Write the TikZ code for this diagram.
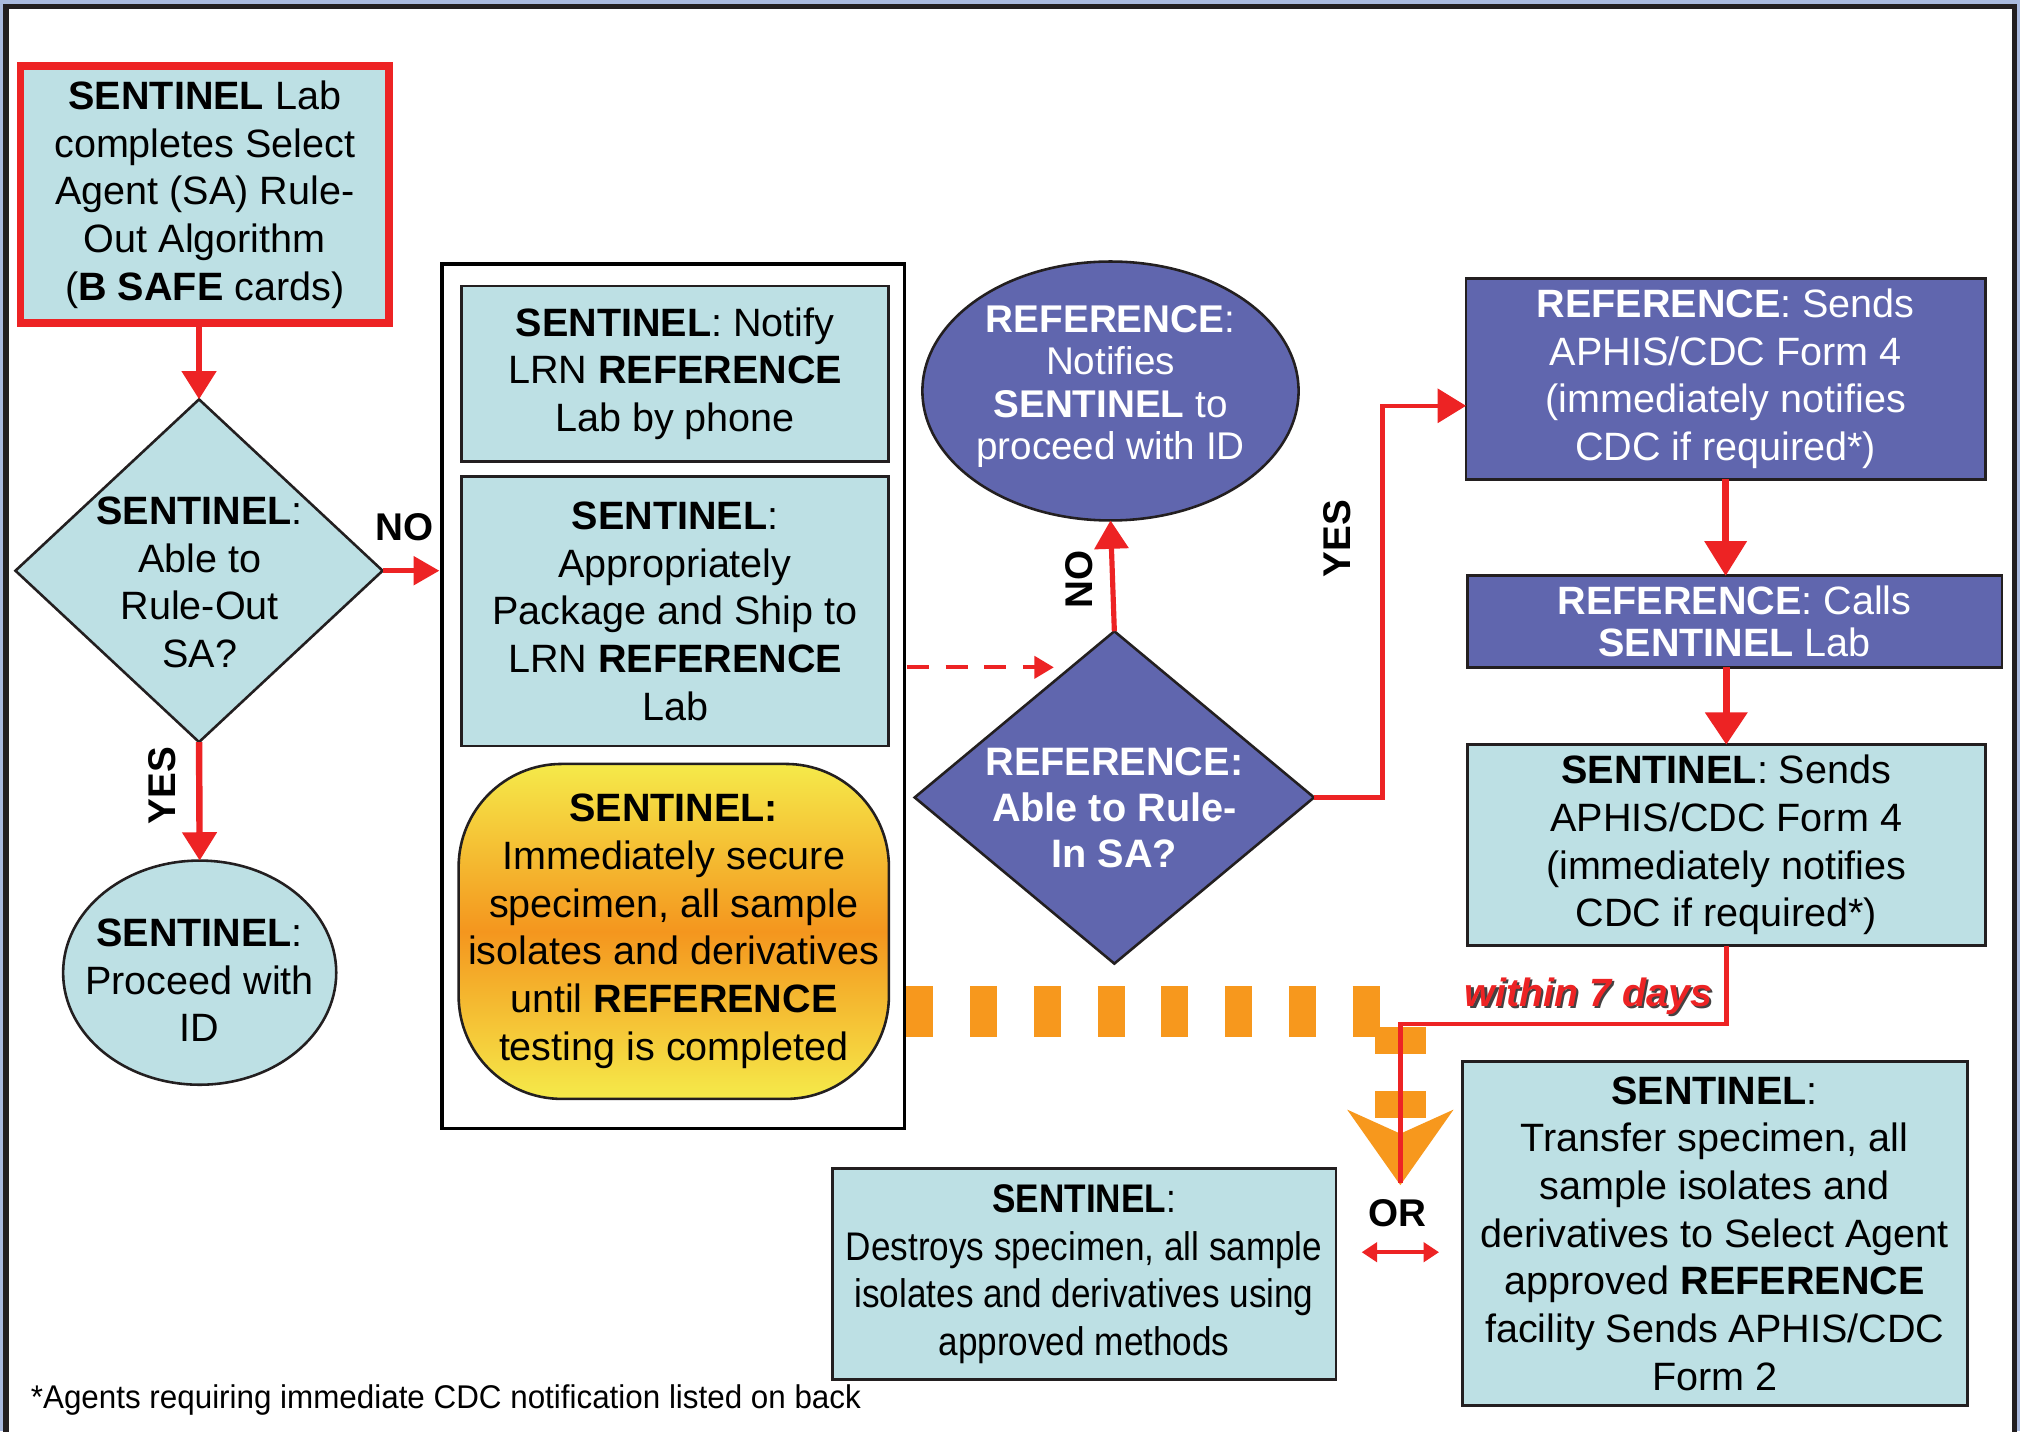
\documentclass[tikz,border=0pt]{standalone}
\usepackage{fontspec}
\setmainfont{Liberation Sans}
\newfontfamily\narrowfont[FakeStretch=0.88]{Liberation Sans}
\newfontfamily\footfont[FakeStretch=0.955]{Liberation Sans}
\usetikzlibrary{shapes.geometric,arrows.meta}
\definecolor{lblue}{RGB}{189,224,228}
\definecolor{dblue}{RGB}{96,102,174}
\definecolor{fred}{RGB}{237,35,36}
\definecolor{forange}{RGB}{247,152,29}
\definecolor{fyellow}{RGB}{245,234,74}
\definecolor{fmid}{RGB}{244,150,30}
\definecolor{bgblue}{RGB}{170,186,222}
\definecolor{fdark}{RGB}{35,31,32}
\begin{document}
\begin{tikzpicture}[x=1pt,y=-1pt,
  every node/.style={inner sep=0pt, outer sep=0pt},
  base/.style={font=\fontsize{30.7}{37}\selectfont, align=center},
  lbox/.style={base, draw=fdark, line width=2.2pt, fill=lblue},
  dbox/.style={lbox, fill=dblue, text=white},
  shapeonly/.style={draw=fdark, line width=2pt},
  txt/.style={base},
  wtxt/.style={base, text=white},
  lbl/.style={font=\fontsize{30}{36}\selectfont\bfseries},
  redarr/.style={draw=fred, line width=5pt, -{Triangle[width=26pt,length=22pt]}},
  redline/.style={draw=fred, line width=3.5pt},
  dashred/.style={draw=fred, line width=3pt, dash pattern=on 17pt off 13pt, -{Triangle[width=17pt,length=15pt]}},
  orangeconn/.style={draw=forange, line width=40pt, dash pattern=on 21pt off 28.5pt, -{Stealth[width=81pt,length=58pt,inset=18pt]}},
  dblarr/.style={draw=fred, line width=3pt, {Triangle[width=15pt,length=12pt]}-{Triangle[width=15pt,length=12pt]}},
  w7font/.style={font=\fontsize{30.6}{36}\selectfont\bfseries\itshape}
]
\useasboundingbox (0,0) rectangle (1568,1111);
\clip (0,0) rectangle (1568,1111);
\fill[bgblue] (0,0) rectangle (1568,1111);
\draw[fdark, line width=4.3pt, fill=white] (4.5,5.2) rectangle (1563.7,1130);

% coordinates
\coordinate (dashy) at (0,518);
\coordinate (dashend) at (818,518);
\coordinate (orangey) at (0,785);
\coordinate (orjoin) at (1087,920);
\coordinate (orarr) at (0,972);

% left column
\node[lbox, draw=fred, line width=6pt, minimum width=286pt, minimum height=200pt] (start) at (159,151)
  {\textbf{SENTINEL} Lab\\completes Select\\Agent (SA) Rule-\\Out Algorithm\\(\textbf{B SAFE} cards)};
\node[diamond, shapeonly, fill=lblue, minimum width=285pt, minimum height=266pt] (d1) at (154.5,443) {};
\node[txt] (d1t) at (155,452) {\textbf{SENTINEL}:\\Able to\\Rule-Out\\SA?};
\node[ellipse, shapeonly, fill=lblue, minimum width=212pt, minimum height=174pt] (e1) at (155,755) {};
\node[txt] (e1t) at (155,761) {\textbf{SENTINEL}:\\Proceed with\\ID};

% container column
\node[draw=black, line width=2.6pt, minimum width=359pt, minimum height=671pt] (cont) at (522.5,540.5) {};
\node[lbox, minimum width=332pt, minimum height=136pt] (na) at (524,290)
  {\textbf{SENTINEL}: Notify\\LRN \textbf{REFERENCE}\\Lab by phone};
\node[lbox, minimum width=332pt, minimum height=209pt] (nb) at (524,474.5)
  {\textbf{SENTINEL}:\\Appropriately\\Package and Ship to\\LRN \textbf{REFERENCE}\\Lab};
\node[base, draw=fdark, line width=2pt, rounded corners=80pt, top color=fyellow, bottom color=fyellow, middle color=fmid,
  minimum width=334pt, minimum height=260pt] (nc) at (523,723)
  {\textbf{SENTINEL:}\\Immediately secure\\specimen, all sample\\isolates and derivatives\\until \textbf{REFERENCE}\\testing is completed};

% reference decision
\node[diamond, shapeonly, fill=dblue, minimum width=310pt, minimum height=258pt] (d2) at (865,619) {};
\node[wtxt, font=\fontsize{30.8}{36}\selectfont\bfseries] (d2t) at (865,627) {REFERENCE:\\Able to Rule-\\In SA?};
\node[ellipse, shapeonly, fill=dblue, minimum width=292pt, minimum height=201pt] (e2) at (862,303.5) {};
\node[wtxt, font=\fontsize{30}{32.7}\selectfont] (e2t) at (862,300)
  {\textbf{REFERENCE}:\\Notifies\\\textbf{SENTINEL} to\\proceed with ID};

% right column
\node[dbox, minimum width=403pt, minimum height=156pt] (r1) at (1339.5,294)
  {\textbf{REFERENCE}: Sends\\APHIS/CDC Form 4\\(immediately notifies\\CDC if required*)};
\node[dbox, minimum width=415pt, minimum height=71pt, font=\fontsize{30.7}{33}\selectfont] (r2) at (1346.5,482.5)
  {\textbf{REFERENCE}: Calls\\\textbf{SENTINEL} Lab};
\node[lbox, minimum width=402pt, minimum height=156pt] (r3) at (1340,656)
  {\textbf{SENTINEL}: Sends\\APHIS/CDC Form 4\\(immediately notifies\\CDC if required*)};

% bottom boxes
\node[lbox, minimum width=391pt, minimum height=164pt, font=\narrowfont\fontsize{31}{37}\selectfont] (bl) at (841.5,989)
  {\textbf{SENTINEL}:\\Destroys specimen, all sample\\isolates and derivatives using\\approved methods};
\node[lbox, minimum width=392pt, minimum height=267pt] (br) at (1331,957.5)
  {\textbf{SENTINEL}:\\Transfer specimen, all\\sample isolates and\\derivatives to Select Agent\\approved \textbf{REFERENCE}\\facility Sends APHIS/CDC\\Form 2};

% connectors
\draw[redarr] (start.south -| d1.north) -- (d1.north);
\draw[redarr, line width=3.5pt, -{Triangle[width=22pt,length=20pt]}] (d1.east) -- ([xshift=-2pt]cont.west |- d1.east);
\node[lbl] (no1) at (314,409) {NO};
\draw[redarr] (d1.south) -- (e1.north);
\node[lbl, rotate=90] (yes1) at (126,610) {YES};

\draw[dashred] ([xshift=2pt]cont.east |- dashy) -- (dashend);
\draw[redarr, line width=4pt] (d2.north) -- (e2.south);
\node[lbl, rotate=90] (no2) at (838,450) {NO};
\draw[redarr, line width=3.5pt] (d2.east) -- ++(53,0) |- ([yshift=-21pt]r1.west);
\node[lbl, rotate=90] (yes2) at (1038,418) {YES};

\draw[redarr, -{Triangle[width=32pt,length=27pt]}] (r1.south) -- (r1.south |- r2.north);
\draw[redarr, -{Triangle[width=32pt,length=25pt]}] (r2.south -| r3.north) -- (r3.north);

\draw[orangeconn] ([xshift=1.5pt]cont.east |- orangey) -- (orjoin |- orangey) -- (orjoin);
\draw[redline] (r3.south) -- ++(0,61) -| ([yshift=2pt]orjoin);
\node[w7font, text=fdark!85] (w7s) at (1234.8,774.8) {within 7 days};
\node[w7font, text=fred] (w7) at (1233,773) {within 7 days};

\node[lbl] (or) at (1085,942) {OR};
\draw[dblarr, shorten <=20pt, shorten >=18pt] (bl.east |- orarr) -- (br.west |- orarr);

\node[anchor=west, font=\footfont\fontsize{25.5}{30}\selectfont] (foot) at (24,1087)
  {*Agents requiring immediate CDC notification listed on back};
\end{tikzpicture}
\end{document}
